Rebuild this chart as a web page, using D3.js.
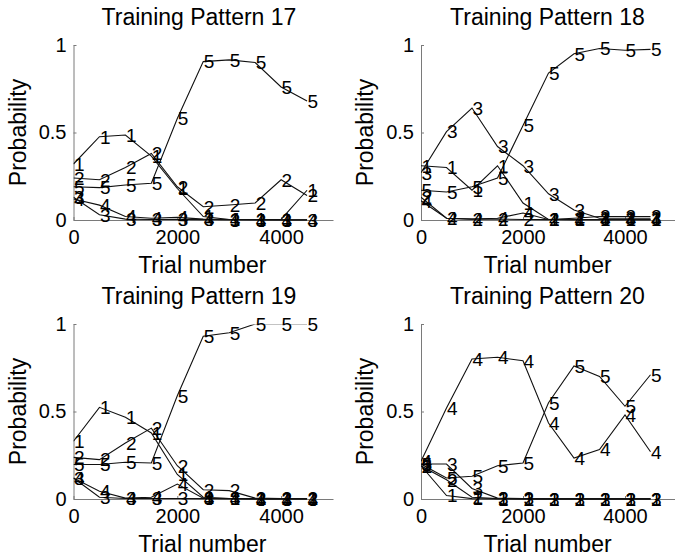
<!DOCTYPE html>
<html>
<head>
<meta charset="utf-8">
<script src="https://cdn.jsdelivr.net/npm/d3@7"></script>
<style>
  body { margin: 0; background: #fff; }
  svg { display: block; }
  text { font-family: "Liberation Sans", Arial, Helvetica, sans-serif; fill: #000; }
</style>
</head>
<body>
<svg id="chart" width="675" height="558"></svg>
<script>
// Trials at which the response probabilities were sampled
const trials = [0, 500, 1000, 1500, 2000, 2500, 3000, 3500, 4000, 4500];
const xTickValues = [0, 2000, 4000];
const yTickValues = [0, 0.5, 1];
const seriesLabels = ["1", "2", "3", "4", "5"];
const patternTitles = ["Training Pattern 17", "Training Pattern 18", "Training Pattern 19", "Training Pattern 20"];

// Probability of each response (rows: responses 1..5) over trials
const pattern17 = [
  [0.32, 0.476, 0.486, 0.365, 0.18, 0.02, 0.003, 0.003, 0.003, 0.17],
  [0.24, 0.23, 0.30, 0.38, 0.19, 0.076, 0.086, 0.097, 0.23, 0.14],
  [0.13, 0.03, 0.005, 0.003, 0.003, 0.002, 0.001, 0.001, 0.001, 0.001],
  [0.12, 0.085, 0.02, 0.01, 0.015, 0.005, 0.002, 0.001, 0.001, 0.001],
  [0.19, 0.185, 0.20, 0.21, 0.58, 0.905, 0.915, 0.90, 0.76, 0.68]
];
const pattern18 = [
  [0.31, 0.30, 0.17, 0.31, 0.097, 0.003, 0.002, 0.002, 0.002, 0.002],
  [0.13, 0.01, 0.005, 0.005, 0.003, 0.002, 0.01, 0.02, 0.02, 0.02],
  [0.27, 0.505, 0.64, 0.42, 0.31, 0.15, 0.057, 0.01, 0.01, 0.01],
  [0.11, 0.01, 0.005, 0.01, 0.04, 0.003, 0.002, 0.002, 0.002, 0.002],
  [0.17, 0.16, 0.19, 0.24, 0.54, 0.84, 0.95, 0.98, 0.97, 0.975]
];
const pattern19 = [
  [0.33, 0.524, 0.467, 0.377, 0.14, 0.01, 0.003, 0.002, 0.002, 0.002],
  [0.238, 0.225, 0.32, 0.405, 0.19, 0.053, 0.048, 0.005, 0.003, 0.003],
  [0.12, 0.01, 0.003, 0.003, 0.003, 0.002, 0.002, 0.001, 0.001, 0.001],
  [0.12, 0.044, 0.005, 0.01, 0.085, 0.005, 0.002, 0.001, 0.001, 0.001],
  [0.197, 0.197, 0.21, 0.206, 0.59, 0.93, 0.95, 1.0, 1.0, 1.0]
];
const pattern20 = [
  [0.19, 0.02, 0.002, 0.001, 0.001, 0.001, 0.001, 0.001, 0.001, 0.001],
  [0.19, 0.11, 0.01, 0.002, 0.001, 0.001, 0.001, 0.001, 0.001, 0.001],
  [0.20, 0.20, 0.06, 0.005, 0.002, 0.001, 0.001, 0.001, 0.001, 0.001],
  [0.215, 0.52, 0.80, 0.81, 0.79, 0.434, 0.234, 0.283, 0.48, 0.27],
  [0.20, 0.12, 0.13, 0.19, 0.206, 0.55, 0.76, 0.70, 0.53, 0.71]
];

const panels = [
  { title: patternTitles[0], data: pattern17, left: 73.5, right: 333, top: 45, bottom: 220, titleX: 199 },
  { title: patternTitles[1], data: pattern18, left: 421, right: 676, top: 45, bottom: 220, titleX: 547.5 },
  { title: patternTitles[2], data: pattern19, left: 73.5, right: 333, top: 324, bottom: 499, titleX: 199 },
  { title: patternTitles[3], data: pattern20, left: 421, right: 676, top: 324, bottom: 499, titleX: 547.5 }
];

const svg = d3.select("#chart");
const axisColor = "#7a7a7a";

panels.forEach((p, pi) => {
  const x = d3.scaleLinear().domain([0, 5000]).range([p.left, p.right]);
  const y = d3.scaleLinear().domain([0, 1]).range([p.bottom, p.top]);
  const g = svg.append("g");

  // plot-area clip for the curves (labels stay unclipped)
  const clipId = "clip" + pi;
  svg.append("clipPath").attr("id", clipId)
    .append("rect")
    .attr("x", p.left).attr("y", y(1) + 0.6)
    .attr("width", p.right - p.left).attr("height", y(0) - y(1) + 0.8);

  // y axis
  const yAxis = g.append("g")
    .attr("transform", `translate(${p.left},0)`)
    .call(d3.axisLeft(y).tickValues(yTickValues).tickFormat(d3.format("")).tickSize(-3).tickSizeOuter(0).tickPadding(7));
  // x axis
  const xAxis = g.append("g")
    .attr("transform", `translate(0,${p.bottom})`)
    .call(d3.axisBottom(x).tickValues(xTickValues).tickFormat(d3.format("")).tickSize(-3).tickSizeOuter(0).tickPadding(10));

  [yAxis, xAxis].forEach(a => {
    a.select(".domain").attr("stroke", axisColor).attr("stroke-width", 1);
    a.selectAll(".tick line").attr("stroke", axisColor);
    a.selectAll(".tick text").attr("font-size", 20).attr("fill", "#000")
      .style("font-family", '"Liberation Sans", Arial, Helvetica, sans-serif');
  });

  // curves
  const line = d3.line().x((d, i) => x(trials[i])).y(d => y(d));
  const curves = g.append("g").attr("clip-path", `url(#${clipId})`);
  p.data.forEach(series => {
    curves.append("path")
      .attr("d", line(series))
      .attr("fill", "none")
      .attr("stroke", "#111")
      .attr("stroke-width", 1.1);
  });

  // response-number markers, left edge at each sample point
  p.data.forEach((series, si) => {
    g.append("g").selectAll("text")
      .data(series)
      .join("text")
      .attr("x", (d, i) => x(trials[i]) + 0.5)
      .attr("y", d => y(d))
      .attr("dy", "0.36em")
      .attr("font-size", 19)
      .text(seriesLabels[si]);
  });

  // title
  g.append("text")
    .attr("x", p.titleX).attr("y", p.top - 20)
    .attr("text-anchor", "middle")
    .attr("font-size", 23)
    .text(p.title);

  // axis labels
  g.append("text")
    .attr("x", (p.left + p.right) / 2 - 1).attr("y", p.bottom + 53)
    .attr("text-anchor", "middle")
    .attr("font-size", 23)
    .text("Trial number");

  g.append("text")
    .attr("transform", `translate(${p.left - 48},${(p.top + p.bottom) / 2}) rotate(-90)`)
    .attr("text-anchor", "middle")
    .attr("font-size", 23)
    .text("Probability");
});
</script>
</body>
</html>
